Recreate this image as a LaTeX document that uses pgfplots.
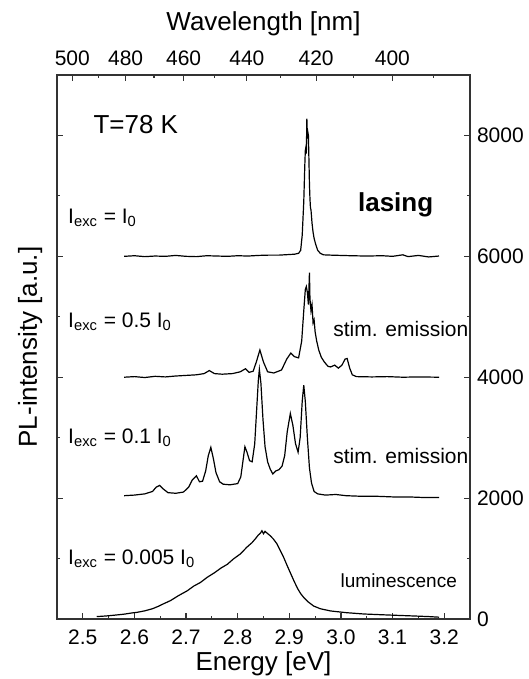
\documentclass[border=0pt]{standalone}
\usepackage{fontspec}
\setmainfont{Liberation Sans}
\usepackage{pgfplots}
\pgfplotsset{compat=1.18}

% spectra, offsets already added (I0: +6000, 0.5 I0: +4000, 0.1 I0: +2000)
\pgfplotstableread{
E I
2.580 6000
2.600 6010
2.620 5995
2.640 6005
2.660 6000
2.680 6015
2.700 6000
2.720 5995
2.740 6010
2.760 6005
2.780 6000
2.800 6010
2.820 6005
2.840 6015
2.860 6020
2.880 6020
2.900 6030
2.910 6035
2.918 6050
2.922 6100
2.925 6350
2.928 6900
2.930 7500
2.931 7750
2.932 7800
2.933 7700
2.934 8280
2.935 7950
2.936 8050
2.937 8000
2.938 7600
2.939 7200
2.940 6950
2.941 6800
2.942 6770
2.944 6550
2.946 6400
2.948 6300
2.951 6200
2.955 6100
2.960 6050
2.966 6025
2.980 6020
3.000 6015
3.020 6010
3.050 6005
3.080 6010
3.100 6000
3.120 6025
3.130 5995
3.150 6015
3.170 5990
3.190 6005
}\lasing

\pgfplotstableread{
E I
2.580 4000
2.600 4010
2.620 3995
2.640 4015
2.660 4005
2.680 4020
2.700 4030
2.720 4040
2.735 4060
2.745 4110
2.755 4060
2.770 4050
2.790 4060
2.805 4090
2.815 4140
2.822 4080
2.830 4100
2.836 4250
2.843 4450
2.850 4250
2.858 4090
2.870 4070
2.885 4120
2.895 4300
2.903 4400
2.910 4340
2.918 4320
2.924 4600
2.928 5100
2.931 5450
2.933 5500
2.935 5400
2.937 5200
2.939 5730
2.940 5300
2.942 5100
2.944 5200
2.946 4900
2.948 4950
2.950 4750
2.953 4600
2.957 4450
2.962 4330
2.968 4250
2.975 4180
2.980 4170
2.988 4200
2.995 4150
3.002 4200
3.008 4300
3.012 4310
3.017 4150
3.022 4040
3.030 4010
3.060 4005
3.090 4010
3.120 4000
3.150 4005
3.190 4000
}\halfI

\pgfplotstableread{
E I
2.580 2040
2.600 2050
2.620 2070
2.635 2110
2.642 2180
2.649 2210
2.656 2150
2.665 2090
2.680 2080
2.695 2100
2.705 2180
2.712 2300
2.720 2370
2.726 2270
2.732 2280
2.738 2450
2.743 2700
2.748 2840
2.753 2650
2.758 2420
2.765 2270
2.772 2230
2.785 2220
2.800 2240
2.806 2350
2.810 2600
2.814 2850
2.818 2760
2.823 2620
2.828 2600
2.833 2900
2.837 3500
2.840 3950
2.842 4130
2.845 3900
2.849 3300
2.853 2850
2.858 2600
2.863 2480
2.868 2400
2.874 2450
2.880 2470
2.886 2530
2.891 2700
2.896 3100
2.902 3400
2.907 3200
2.912 2900
2.917 2760
2.921 3000
2.925 3600
2.928 3870
2.931 3600
2.935 3000
2.939 2500
2.943 2250
2.948 2110
2.955 2070
2.970 2050
2.990 2060
3.010 2040
3.040 2030
3.070 2030
3.100 2020
3.130 2020
3.160 2010
3.190 2010
}\tenthI

\pgfplotstableread{
E I
2.527 40
2.545 50
2.560 62
2.580 80
2.595 100
2.605 110
2.620 135
2.635 170
2.645 205
2.656 250
2.670 305
2.685 385
2.702 465
2.715 545
2.728 605
2.741 690
2.755 765
2.768 845
2.780 905
2.792 995
2.805 1075
2.818 1190
2.828 1265
2.836 1345
2.840 1390
2.844 1420
2.847 1460
2.850 1410
2.853 1450
2.857 1420
2.862 1385
2.869 1325
2.876 1245
2.882 1140
2.889 1020
2.896 880
2.903 745
2.909 630
2.916 505
2.922 420
2.928 355
2.937 280
2.947 215
2.960 170
2.980 133
3.010 105
3.044 83
3.080 70
3.110 60
3.141 50
3.170 40
3.190 30
}\lumi

\begin{document}
\begin{tikzpicture}
\pgfplotsset{every axis/.append style={
  scale only axis, width=206.5pt, height=272pt,
  xmin=2.45, xmax=3.25, ymin=0, ymax=9000,
  tick align=inside, major tick length=3pt, minor tick length=1.6pt,
  axis line style={line width=0.7pt, black!80},
  every tick/.style={black!80, line width=0.6pt},
  tick label style={font=\fontsize{10.5}{12}\selectfont},
  label style={font=\fontsize{13}{15}\selectfont},
}}

% top axis: wavelength
\begin{axis}[
  axis y line=none, axis x line*=top,
  xtick={2.4797,2.5830,2.6953,2.8178,2.9520,3.0996},
  xticklabels={500,480,460,440,420,400},
  minor xtick={2.5303,2.6380,2.7552,2.8834,3.0240,3.1791},
  xticklabel style={yshift=1pt},
  xlabel={Wavelength [nm]},
  xlabel style={at={(axis description cs:0.5,1.095)}, anchor=center},
]
\end{axis}

\begin{axis}[
  xtick={2.5,2.6,2.7,2.8,2.9,3.0,3.1,3.2},
  xticklabels={2.5,2.6,2.7,2.8,2.9,3.0,3.1,3.2},
  minor xtick={2.55,2.65,2.75,2.85,2.95,3.05,3.15},
  xtick pos=bottom,
  xticklabel style={yshift=-2pt},
  ytick={0,2000,4000,6000,8000},
  yticklabels={0,2000,4000,6000,8000},
  minor ytick={1000,3000,5000,7000},
  ytick pos=both, yticklabel pos=right,
  xlabel={Energy [eV]},
  ylabel={PL-intensity [a.u.]},
  xlabel style={at={(axis description cs:0.5,-0.083)}, anchor=center},
  ylabel style={at={(axis description cs:-0.065,0.5)}, anchor=center},
]
\addplot[black, line width=0.6pt, mark=none] table {\lasing};
\addplot[black, line width=0.6pt, mark=none] table {\halfI};
\addplot[black, line width=0.6pt, mark=none] table {\tenthI};
\addplot[black, line width=0.6pt, mark=none] table {\lumi};

\node[anchor=west, inner sep=0pt, font=\fontsize{13}{15}\selectfont] at (axis cs:2.52,8183) {T=78 K};
\node[anchor=west, inner sep=0pt, font=\fontsize{10.5}{12}\selectfont] at (axis cs:2.471,6639) {I\textsubscript{exc} = I\textsubscript{0}};
\node[anchor=west, inner sep=0pt, font=\fontsize{10.5}{12}\selectfont] at (axis cs:2.471,4913) {I\textsubscript{exc} = 0.5 I\textsubscript{0}};
\node[anchor=west, inner sep=0pt, font=\fontsize{10.5}{12}\selectfont] at (axis cs:2.471,3004) {I\textsubscript{exc} = 0.1 I\textsubscript{0}};
\node[anchor=west, inner sep=0pt, font=\fontsize{10.5}{12}\selectfont] at (axis cs:2.471,996) {I\textsubscript{exc} = 0.005 I\textsubscript{0}};
\node[font=\fontsize{13}{15}\selectfont\bfseries] at (axis cs:3.106,6855) {lasing};
\node[font=\fontsize{10.5}{12}\selectfont] at (axis cs:3.116,4797) {stim. emission};
\node[font=\fontsize{10.5}{12}\selectfont] at (axis cs:3.116,2705) {stim. emission};
\node[font=\fontsize{9.5}{11}\selectfont] at (axis cs:3.112,631) {luminescence};
\end{axis}

\pgfresetboundingbox
\path[use as bounding box] (-28.5pt,-30pt) rectangle (236pt,309.5pt);
\end{tikzpicture}
\end{document}
